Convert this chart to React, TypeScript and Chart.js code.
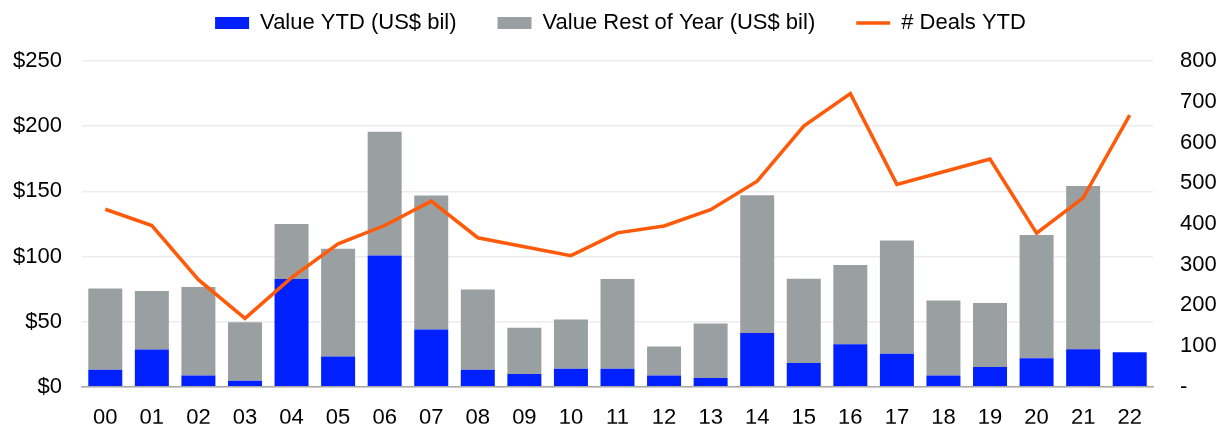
import React, { useEffect, useRef } from "react";
import { Chart, registerables } from "chart.js";

Chart.register(...registerables);

const categories = ["00","01","02","03","04","05","06","07","08","09","10","11","12","13","14","15","16","17","18","19","20","21","22"];
const valueYTD = [13, 28.6, 8.6, 4.6, 82.8, 23.3, 100.8, 44, 13, 9.9, 13.9, 13.9, 8.6, 6.8, 41.3, 18.2, 32.7, 25.3, 8.6, 15.2, 22, 28.9, 26.6];
const valueTotal = [75.5, 73.5, 76.5, 49.6, 124.9, 105.9, 195.8, 146.7, 74.7, 45.3, 51.7, 82.8, 30.9, 48.6, 146.9, 83, 93.5, 112.2, 66.3, 64.3, 116.5, 154, 26.6];
const valueRest = valueTotal.map((t, i) => Math.max(0, +(t - valueYTD[i]).toFixed(1)));
const dealsYTD = [436, 396, 263, 168, 268, 351, 396, 456, 366, 344, 322, 378, 395, 435, 505, 640, 720, 497, 528, 559, 377, 464, 667];

const FONT = "'Liberation Sans', Arial, sans-serif";
const LEGEND_PAD = 41;
const TOP_SHIFT = -29;
const CHART_TOP = 61;
const LEGEND_X_SHIFT = 11;

const legendHeightPlugin = {
  id: "legendHeight",
  beforeInit(chart: any) {
    const legend = chart.legend;
    if (!legend) return;
    const origFit = legend.fit.bind(legend);
    legend.fit = function () {
      origFit();
      this.height = CHART_TOP - TOP_SHIFT;
    };
    const origDraw = legend.draw.bind(legend);
    legend.draw = function () {
      const l = this.left, r = this.right;
      this.left = l + LEGEND_X_SHIFT;
      this.right = r + LEGEND_X_SHIFT;
      origDraw();
      this.left = l;
      this.right = r;
    };
  },
};

export default function App() {
  const ref = useRef<HTMLCanvasElement | null>(null);
  useEffect(() => {
    document.body.style.margin = "0";
    const canvas = ref.current!;
    const chart = new Chart(canvas, {
      type: "bar",
      data: {
        labels: categories,
        datasets: [
          {
            type: "bar",
            label: "Value YTD (US$ bil)",
            data: valueYTD,
            backgroundColor: "#0020FF",
            borderWidth: 0,
            yAxisID: "y",
            stack: "v",
            order: 1,
            pointStyle: "rect",
            categoryPercentage: 1,
            barPercentage: 0.73,
          } as any,
          {
            type: "bar",
            label: "Value Rest of Year (US$ bil)",
            data: valueRest,
            backgroundColor: "#9AA0A1",
            borderWidth: 0,
            yAxisID: "y",
            stack: "v",
            order: 1,
            pointStyle: "rect",
            categoryPercentage: 1,
            barPercentage: 0.73,
          } as any,
          {
            type: "line",
            label: "# Deals YTD",
            data: dealsYTD,
            borderColor: "#FF5A0A",
            backgroundColor: "#FF5A0A",
            borderWidth: 3.5,
            pointRadius: 0,
            tension: 0,
            yAxisID: "y1",
            order: 0,
            pointStyle: "line",
          } as any,
        ],
      },
      options: {
        responsive: false,
        animation: false,
        devicePixelRatio: 1,
        layout: { padding: { top: TOP_SHIFT, left: 0, right: 0, bottom: 0 } },
        plugins: {
          tooltip: { enabled: false },
          legend: {
            position: "top",
            labels: {
              usePointStyle: true,
              pointStyleWidth: 34,
              boxWidth: 34,
              boxHeight: 12,
              padding: LEGEND_PAD,
              color: "#000",
              font: { family: FONT, size: 22 },
              sort: (a: any, b: any) => a.datasetIndex - b.datasetIndex,
            },
          },
        },
        scales: {
          x: {
            stacked: true,
            grid: { display: false, drawTicks: false },
            border: { display: true, color: "#A8A8A8", width: 1.5 },
            ticks: { color: "#000", font: { family: FONT, size: 22 }, padding: 18, maxRotation: 0, autoSkip: false },
            afterFit: (s: any) => { s.height = 37; },
          },
          y: {
            stacked: true,
            position: "left",
            min: 0,
            max: 250,
            grid: { color: "#ECECEC", lineWidth: 1.5, drawTicks: false },
            border: { display: false },
            ticks: {
              stepSize: 50,
              padding: 20,
              color: "#000",
              font: { family: FONT, size: 22 },
              callback: (v: any) => "$" + v,
            },
            afterFit: (s: any) => { s.width = 82; },
          },
          y1: {
            position: "right",
            min: 0,
            max: 800,
            grid: { display: false, drawTicks: false },
            border: { display: false },
            ticks: {
              stepSize: 100,
              padding: 27,
              color: "#000",
              font: { family: FONT, size: 22 },
              callback: (v: any) => (v === 0 ? "-" : String(v)),
            },
            afterFit: (s: any) => { s.width = 66; },
          },
        },
      },
      plugins: [legendHeightPlugin],
    });
    return () => chart.destroy();
  }, []);
  return (
    <div style={{ width: 1219, height: 427 }}>
      <canvas ref={ref} width={1219} height={427} style={{ display: "block" }} />
    </div>
  );
}
